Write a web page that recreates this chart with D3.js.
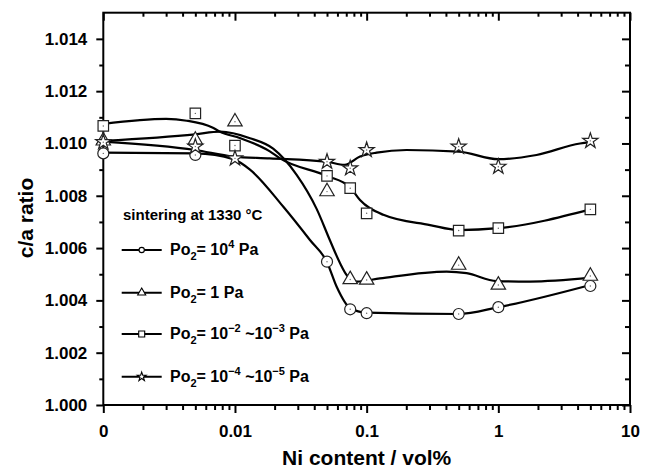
<!DOCTYPE html>
<html>
<head>
<meta charset="utf-8">
<script src="https://cdn.jsdelivr.net/npm/d3@7"></script>
<style>
  body { margin: 0; background: #fff; }
  text { font-family: Arial, "Liberation Sans", sans-serif; font-weight: bold; }
</style>
</head>
<body>
<div id="chart"></div>
<script>
// Marker data (Ni content in vol%, 0 drawn at the 0.001 position)
var niX = [0, 0.005, 0.01, 0.05, 0.075, 0.1, 0.5, 1, 5];
var circleX = [0, 0.005, 0.05, 0.075, 0.1, 0.5, 1, 5];
var circleY = [1.00962, 1.00956, 1.00548, 1.00366, 1.00351, 1.00348, 1.00374, 1.00455];
var triangleY = [1.0101, 1.01013, 1.01083, 1.00816, 1.0048, 1.00478, 1.00535, 1.00459, 1.00493];
var squareY = [1.01067, 1.01115, 1.00992, 1.00876, 1.00829, 1.00733, 1.00667, 1.00676, 1.00748];
var starY = [1.01005, 1.00988, 1.00943, 1.0093, 1.00905, 1.00975, 1.00988, 1.00911, 1.0101];

// Smoothed fit curves
var circleFitX = [0, 0.005, 0.0097, 0.013, 0.0233, 0.0371, 0.05, 0.0592, 0.075, 0.1, 0.5, 1, 5];
var circleFitY = [1.00965, 1.00962, 1.0094, 1.0090, 1.00758, 1.00631, 1.00546, 1.00452, 1.0037, 1.00353, 1.00348, 1.00374, 1.00459];
var triangleFitX = [0, 0.005, 0.0077, 0.013, 0.0195, 0.0294, 0.0417, 0.0526, 0.0627, 0.0705, 0.084, 0.126, 0.405, 0.574, 0.97, 1.74, 5];
var triangleFitY = [1.0101, 1.01035, 1.01045, 1.0102, 1.0098, 1.0088, 1.0075, 1.0063, 1.00543, 1.00497, 1.00472, 1.00484, 1.0051, 1.00504, 1.00474, 1.00472, 1.00487];
var squareFitX = [0, 0.003, 0.0043, 0.0068, 0.0077, 0.011, 0.0184, 0.022, 0.05, 0.075, 0.089, 0.134, 0.303, 0.5, 1, 5];
var squareFitY = [1.01075, 1.01094, 1.01087, 1.0106, 1.01045, 1.0102, 1.0097, 1.00943, 1.00876, 1.00832, 1.00784, 1.00727, 1.00688, 1.00669, 1.00676, 1.00748];
var starFitX = [0, 0.005, 0.0097, 0.0184, 0.05, 0.068, 0.089, 0.119, 0.201, 0.5, 1, 1.95, 4.17, 5];
var starFitY = [1.01007, 1.00975, 1.0095, 1.00943, 1.0093, 1.00918, 1.0095, 1.00965, 1.00975, 1.00969, 1.0094, 1.00956, 1.01, 1.01005];

// Axis ticks
var xMajor = [0.001, 0.01, 0.1, 1, 10];
var xLabels = ["0", "0.01", "0.1", "1", "10"];
var yMajor = [1.000, 1.002, 1.004, 1.006, 1.008, 1.010, 1.012, 1.014];
var yMinor = [1.001, 1.003, 1.005, 1.007, 1.009, 1.011, 1.013];

var svgWidth = 655;
var svgHeight = 468;
var plot = { left: 103.3, right: 630, top: 12.7, bottom: 405 };

var svg = d3.select("#chart")
  .append("svg")
  .attr("width", svgWidth)
  .attr("height", svgHeight);

var xScale = d3.scaleLog()
  .domain([0.001, 10])
  .range([plot.left, plot.right]);

var yScale = d3.scaleLinear()
  .domain([1.000, 1.015])
  .range([plot.bottom, plot.top]);

// 0 vol% sits one decade below 0.01
var xPos = function(v) { return xScale(v === 0 ? 0.001 : v); };

// minor x ticks: 2..9 of every decade
var xMinor = [];
xMajor.slice(0, -1).forEach(function(d) {
  for (var k = 2; k <= 9; k++) xMinor.push(d * k);
});

function styleAxis(g) {
  g.select(".domain").remove();
  g.selectAll("line").attr("stroke", "#000").attr("stroke-width", 2);
  g.selectAll("text").attr("fill", "#000").attr("font-size", "17px");
}

// bottom axis (outward ticks, labelled)
svg.append("g")
  .attr("transform", `translate(0, ${plot.bottom})`)
  .call(d3.axisBottom(xScale).tickValues(xMajor).tickSize(8).tickPadding(12)
    .tickFormat(function(d, i) { return xLabels[i]; }))
  .call(styleAxis);
svg.append("g")
  .attr("transform", `translate(0, ${plot.bottom})`)
  .call(d3.axisBottom(xScale).tickValues(xMinor).tickSize(5).tickFormat(""))
  .call(styleAxis);

// top axis (inward ticks)
svg.append("g")
  .attr("transform", `translate(0, ${plot.top})`)
  .call(d3.axisBottom(xScale).tickValues(xMajor).tickSize(8).tickFormat(""))
  .call(styleAxis);
svg.append("g")
  .attr("transform", `translate(0, ${plot.top})`)
  .call(d3.axisBottom(xScale).tickValues(xMinor).tickSize(4).tickFormat(""))
  .call(styleAxis);

// left axis (outward ticks, labelled)
svg.append("g")
  .attr("transform", `translate(${plot.left}, 0)`)
  .call(d3.axisLeft(yScale).tickValues(yMajor).tickSize(7).tickPadding(9)
    .tickFormat(d3.format(".3f")))
  .call(styleAxis);
svg.append("g")
  .attr("transform", `translate(${plot.left}, 0)`)
  .call(d3.axisLeft(yScale).tickValues(yMinor).tickSize(4).tickFormat(""))
  .call(styleAxis);

// right axis (inward ticks)
svg.append("g")
  .attr("transform", `translate(${plot.right}, 0)`)
  .call(d3.axisLeft(yScale).tickValues(yMajor).tickSize(8).tickFormat(""))
  .call(styleAxis);
svg.append("g")
  .attr("transform", `translate(${plot.right}, 0)`)
  .call(d3.axisLeft(yScale).tickValues(yMinor).tickSize(5).tickFormat(""))
  .call(styleAxis);

// frame
svg.append("rect")
  .attr("x", plot.left)
  .attr("y", plot.top)
  .attr("width", plot.right - plot.left)
  .attr("height", plot.bottom - plot.top)
  .attr("fill", "none")
  .attr("stroke", "#000")
  .attr("stroke-width", 2);

// fit lines
var line = d3.line()
  .x(function(d) { return xPos(d[0]); })
  .y(function(d) { return yScale(d[1]); })
  .curve(d3.curveMonotoneX);

var fits = [
  d3.zip(circleFitX, circleFitY),
  d3.zip(triangleFitX, triangleFitY),
  d3.zip(squareFitX, squareFitY),
  d3.zip(starFitX, starFitY)
];

svg.append("g")
  .selectAll("path")
  .data(fits)
  .enter()
  .append("path")
  .attr("d", line)
  .attr("fill", "none")
  .attr("stroke", "#000")
  .attr("stroke-width", 2.2);

// markers
var series = [
  { x: circleX, y: circleY, type: d3.symbolCircle, size: 95, legend: 22 },
  { x: niX, y: triangleY, type: d3.symbolTriangle, size: 90, legend: 28 },
  { x: niX, y: squareY, type: d3.symbolSquare, size: 110, legend: 36 },
  { x: niX, y: starY, type: d3.symbolStar, size: 72, legend: 24 }
];

series.forEach(function(s) {
  var pts = d3.zip(s.x, s.y);
  var g = svg.append("g");
  g.selectAll("path")
    .data(pts)
    .enter()
    .append("path")
    .attr("transform", d => `translate(${xPos(d[0])}, ${yScale(d[1])})`)
    .attr("d", d3.symbol().type(s.type).size(s.size))
    .attr("fill", "#fff")
    .attr("stroke", "#222")
    .attr("stroke-width", 1.2);
  g.selectAll("circle")
    .data(pts)
    .enter()
    .append("circle")
    .attr("cx", d => xPos(d[0]))
    .attr("cy", d => yScale(d[1]))
    .attr("r", 0.7)
    .attr("fill", "#666");
});

// legend
svg.append("text")
  .attr("x", 123)
  .attr("y", 220)
  .attr("font-size", "15px")
  .text("sintering at 1330 \u00B0C");

var legendRows = [
  { y: 250, a: "10", b: "4", c: null, d: null },
  { y: 292.7, a: "1 Pa", b: null, c: null, d: null },
  { y: 334, a: "10", b: "\u22122", c: " ~10", d: "\u22123" },
  { y: 376.7, a: "10", b: "\u22124", c: " ~10", d: "\u22125" }
];

legendRows.forEach(function(r, i) {
  var s = series[i];
  svg.append("line")
    .attr("x1", 121.7).attr("x2", 161.7)
    .attr("y1", r.y).attr("y2", r.y)
    .attr("stroke", "#000")
    .attr("stroke-width", 2);
  svg.append("path")
    .attr("transform", `translate(141.7, ${r.y})`)
    .attr("d", d3.symbol().type(s.type).size(s.legend))
    .attr("fill", "#fff")
    .attr("stroke", "#000")
    .attr("stroke-width", 1.1);

  var t = svg.append("text")
    .attr("x", 170)
    .attr("y", r.y + 5)
    .attr("font-size", "16px");
  t.append("tspan").text("Po");
  t.append("tspan").attr("dy", 5).attr("font-size", "11px").text("2");
  t.append("tspan").attr("dy", -5).text("= " + r.a);
  if (r.b) {
    t.append("tspan").attr("dy", -7).attr("font-size", "11px").text(r.b);
    if (r.c) {
      t.append("tspan").attr("dy", 7).text(r.c);
      t.append("tspan").attr("dy", -7).attr("font-size", "11px").text(r.d);
    }
    t.append("tspan").attr("dy", 7).text(" Pa");
  }
});

// axis titles
svg.append("text")
  .attr("x", (plot.left + plot.right) / 2)
  .attr("y", 465)
  .attr("text-anchor", "middle")
  .attr("font-size", "21px")
  .text("Ni content / vol%");

svg.append("text")
  .attr("transform", "translate(33, 218) rotate(-90)")
  .attr("text-anchor", "middle")
  .attr("font-size", "21px")
  .text("c/a ratio");
</script>
</body>
</html>
